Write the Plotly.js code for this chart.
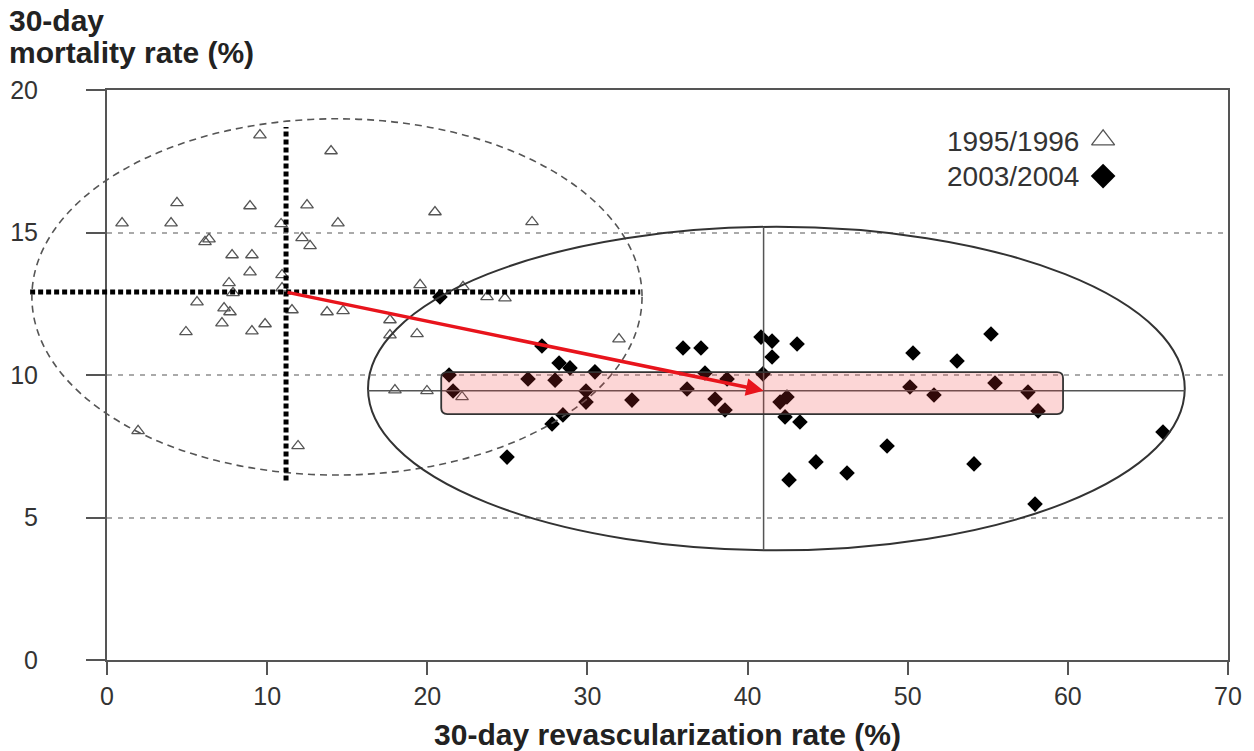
<!DOCTYPE html>
<html>
<head>
<meta charset="utf-8">
<script src="https://cdn.plot.ly/plotly-3.0.1.min.js"></script>
<style>
html,body{margin:0;padding:0;background:#fff;}
#chart{width:1254px;height:751px;}
</style>
</head>
<body>
<div id="chart"></div>
<script>
// ---- data ----
const revasc9596 = [0.94, 4.37, 4.00, 8.93, 9.55, 13.99, 12.49, 14.42, 10.87, 6.12, 6.37, 12.18, 12.68, 7.81, 9.05,
  8.93, 10.93, 7.62, 7.87, 10.93, 5.62, 7.31, 7.68, 11.55, 13.74, 14.74, 7.18, 4.93, 9.05, 9.87,
  1.94, 11.93, 20.48, 26.54, 19.55, 22.23, 23.73, 24.85, 17.67, 17.67, 19.36, 31.97, 17.98, 19.98, 22.17];
const mort9596 = [15.33, 16.04, 15.33, 15.93, 18.42, 17.86, 15.96, 15.33, 15.30, 14.67, 14.77, 14.81, 14.53, 14.21, 14.21,
  13.61, 13.51, 13.23, 12.88, 13.05, 12.56, 12.35, 12.21, 12.28, 12.21, 12.25, 11.82, 11.51, 11.54, 11.79,
  8.04, 7.51, 15.72, 15.37, 13.16, 13.09, 12.74, 12.70, 11.93, 11.40, 11.44, 11.26, 9.47, 9.44, 9.23];

const revasc0304 = [20.79, 27.16, 28.23, 28.91, 30.47, 21.36, 26.29, 27.98, 21.61, 29.91, 29.91, 32.78, 28.47, 27.79, 24.98,
  35.97, 37.09, 37.34, 38.72, 36.22, 37.97, 38.59, 40.84, 41.53, 43.09, 41.53, 40.96, 42.03, 42.46, 42.34,
  43.27, 44.27, 42.59, 46.21, 48.71, 50.33, 50.14, 51.64, 53.08, 55.20, 55.45, 54.14, 57.51, 58.14, 57.95, 65.94];
const mort0304 = [12.74, 11.02, 10.42, 10.25, 10.11, 10.00, 9.86, 9.82, 9.44, 9.44, 9.05, 9.12, 8.60, 8.28, 7.12,
  10.95, 10.95, 10.07, 9.86, 9.51, 9.16, 8.77, 11.33, 11.19, 11.09, 10.63, 10.04, 9.05, 9.23, 8.53,
  8.35, 6.95, 6.32, 6.56, 7.51, 10.77, 9.58, 9.30, 10.49, 11.44, 9.72, 6.88, 9.40, 8.74, 5.47, 8.00];

// summary statistics drawn as crosshairs / ellipses / box
const mean9596 = [11.18, 12.91];          // [revascularization, mortality]
const mean0304 = [41.0, 9.45];
const rangeX9596 = [-4.8, 33.3];          // extent of dotted horizontal bar
const rangeY9596 = [6.3, 18.7];           // extent of dotted vertical bar
const ellipseX9596 = [-4.69, 33.41];
const ellipseY9596 = [6.49, 18.99];
const ellipseX0304 = [16.3, 67.3];
const ellipseY0304 = [3.85, 15.2];
const boxX0304 = [20.87, 59.7];
const boxY0304 = [8.63, 10.1];

const xTicks = [0, 10, 20, 30, 40, 50, 60, 70];
const yTicks = [0, 5, 10, 15, 20];
const seriesNames = ['1995/1996', '2003/2004'];
const xTitle = '30-day revascularization rate (%)';
const yTitleLines = ['30-day', 'mortality rate (%)'];

// ---- geometry ----
const W = 1254, H = 751;
const mL = 0, mR = 26, mT = 90, mB = 91;
const plotW = W - mL - mR;            // 1228
const plotH = H - mT - mB;            // 570
const axisLeftPx = 107;               // pixel of x = 0
const xMax = 70;
const pxPerUnit = (plotW - axisLeftPx) / xMax;
const x2Min = -axisLeftPx / pxPerUnit;

const FONT = 'Liberation Sans, Arial, Helvetica, sans-serif';
const axisGray = '#555';

const traces = [
  {
    x: revasc9596, y: mort9596, type: 'scatter', mode: 'markers', name: seriesNames[0],
    xaxis: 'x', yaxis: 'y', showlegend: false, hoverinfo: 'skip',
    marker: {symbol: 'triangle-up-open', size: 11, color: '#555', line: {width: 1.3, color: '#555'}}
  },
  {
    x: revasc0304, y: mort0304, type: 'scatter', mode: 'markers', name: seriesNames[1],
    xaxis: 'x', yaxis: 'y', showlegend: false, hoverinfo: 'skip',
    marker: {symbol: 'diamond', size: 12, color: '#000'}
  },
  // horizontal dotted bar of 1995/1996 (extends left of the y axis -> wider x2 subplot)
  {
    x: rangeX9596, y: [mean9596[1], mean9596[1]], type: 'scatter', mode: 'lines',
    xaxis: 'x2', yaxis: 'y2', showlegend: false, hoverinfo: 'skip',
    line: {color: '#000', width: 5, dash: '5px,3px'}
  },
  // legend symbols
  {
    x: [62.2], y: [18.25], type: 'scatter', mode: 'markers', xaxis: 'x', yaxis: 'y',
    showlegend: false, hoverinfo: 'skip', cliponaxis: false,
    marker: {symbol: 'triangle-up-open', size: 20, color: '#555', line: {width: 1.3, color: '#555'}}
  },
  {
    x: [62.2], y: [16.98], type: 'scatter', mode: 'markers', xaxis: 'x', yaxis: 'y',
    showlegend: false, hoverinfo: 'skip', cliponaxis: false,
    marker: {symbol: 'diamond', size: 19, color: '#000'}
  }
];

const rx = 6 / pxPerUnit, ry = 6 / (plotH / 20);
const bx0 = boxX0304[0], bx1 = boxX0304[1], by0 = boxY0304[0], by1 = boxY0304[1];
const boxPath = `M ${bx0+rx},${by0} L ${bx1-rx},${by0} Q ${bx1},${by0} ${bx1},${by0+ry} L ${bx1},${by1-ry} Q ${bx1},${by1} ${bx1-rx},${by1} L ${bx0+rx},${by1} Q ${bx0},${by1} ${bx0},${by1-ry} L ${bx0},${by0+ry} Q ${bx0},${by0} ${bx0+rx},${by0} Z`;

const shapes = [
  // dashed ellipse 1995/1996
  {type: 'circle', xref: 'x2', yref: 'y2', x0: ellipseX9596[0], x1: ellipseX9596[1], y0: ellipseY9596[0], y1: ellipseY9596[1],
   line: {color: '#555', width: 1.6, dash: '7px,5px'}},
  // dotted vertical bar 1995/1996
  {type: 'line', xref: 'x', yref: 'y', x0: mean9596[0], x1: mean9596[0], y0: rangeY9596[0], y1: rangeY9596[1],
   line: {color: '#000', width: 5, dash: '5px,3px'}},
  // solid ellipse 2003/2004
  {type: 'circle', xref: 'x', yref: 'y', x0: ellipseX0304[0], x1: ellipseX0304[1], y0: ellipseY0304[0], y1: ellipseY0304[1],
   line: {color: '#333', width: 2}},
  // thin crosshair 2003/2004
  {type: 'line', xref: 'x', yref: 'y', x0: ellipseX0304[0], x1: ellipseX0304[1], y0: mean0304[1], y1: mean0304[1],
   line: {color: '#555', width: 1.5}},
  {type: 'line', xref: 'x', yref: 'y', x0: mean0304[0], x1: mean0304[0], y0: ellipseY0304[0], y1: ellipseY0304[1],
   line: {color: '#555', width: 1.5}},
  // pink rounded box
  {type: 'path', xref: 'x', yref: 'y', path: boxPath, fillcolor: 'rgba(240,50,50,0.2)',
   line: {color: '#333', width: 1.8}, layer: 'above'}
];

const annotations = [
  {xref: 'x', yref: 'y', x: mean0304[0], y: mean0304[1], axref: 'x', ayref: 'y', ax: mean9596[0], ay: mean9596[1],
   text: '', showarrow: true, arrowhead: 2, arrowsize: 1, arrowwidth: 3.5, arrowcolor: '#e8141c', standoff: 0, startstandoff: 0},
  {xref: 'x', yref: 'y', x: 60.8, y: 18.18, xanchor: 'right', yanchor: 'middle', text: seriesNames[0], showarrow: false,
   font: {family: FONT, size: 28, color: '#333'}},
  {xref: 'x', yref: 'y', x: 60.8, y: 16.98, xanchor: 'right', yanchor: 'middle', text: seriesNames[1], showarrow: false,
   font: {family: FONT, size: 28, color: '#333'}},
  {xref: 'paper', yref: 'paper', x: 7 / plotW, y: (660 - 20) / plotH, xanchor: 'left', yanchor: 'middle', align: 'left',
   text: '<b>' + yTitleLines[0] + '</b>', showarrow: false,
   font: {family: FONT, size: 30, color: '#222'}},
  {xref: 'paper', yref: 'paper', x: 7 / plotW, y: (660 - 52) / plotH, xanchor: 'left', yanchor: 'middle', align: 'left',
   text: '<b>' + yTitleLines[1] + '</b>', showarrow: false,
   font: {family: FONT, size: 30, color: '#222'}}
];

const layout = {
  width: W, height: H,
  margin: {l: mL, r: mR, t: mT, b: mB, pad: 0},
  paper_bgcolor: '#fff', plot_bgcolor: 'rgba(0,0,0,0)',
  showlegend: false,
  font: {family: FONT, color: '#333'},
  xaxis: {
    domain: [axisLeftPx / plotW, 1], range: [0, xMax], anchor: 'y',
    tickvals: xTicks, ticktext: xTicks.map(String), ticks: 'outside', ticklen: 13, tickwidth: 2, tickcolor: axisGray,
    showline: true, linecolor: axisGray, linewidth: 2, mirror: true, showgrid: false, zeroline: false,
    tickfont: {family: FONT, size: 25, color: '#333'}, ticklabelstandoff: 0,
    title: {text: '<b>' + xTitle + '</b>', font: {family: FONT, size: 30, color: '#222'}},
    fixedrange: true
  },
  yaxis: {
    range: [0, 20], anchor: 'x',
    tickvals: yTicks, ticktext: yTicks.map(String), ticks: 'outside', ticklen: 19, tickwidth: 2, tickcolor: axisGray,
    showline: true, linecolor: axisGray, linewidth: 2, mirror: true,
    showgrid: true, gridcolor: '#aaa', gridwidth: 2, griddash: '5px,6px', zeroline: false,
    tickfont: {family: FONT, size: 25, color: '#333'}, ticklabelstandoff: 43,
    fixedrange: true
  },
  xaxis2: {domain: [0, 1], range: [x2Min, xMax], anchor: 'y2', visible: false, fixedrange: true},
  yaxis2: {range: [0, 20], overlaying: 'y', anchor: 'x2', visible: false, fixedrange: true},
  shapes: shapes,
  annotations: annotations
};

Plotly.newPlot('chart', traces, layout, {displayModeBar: false, staticPlot: true});
</script>
</body>
</html>
